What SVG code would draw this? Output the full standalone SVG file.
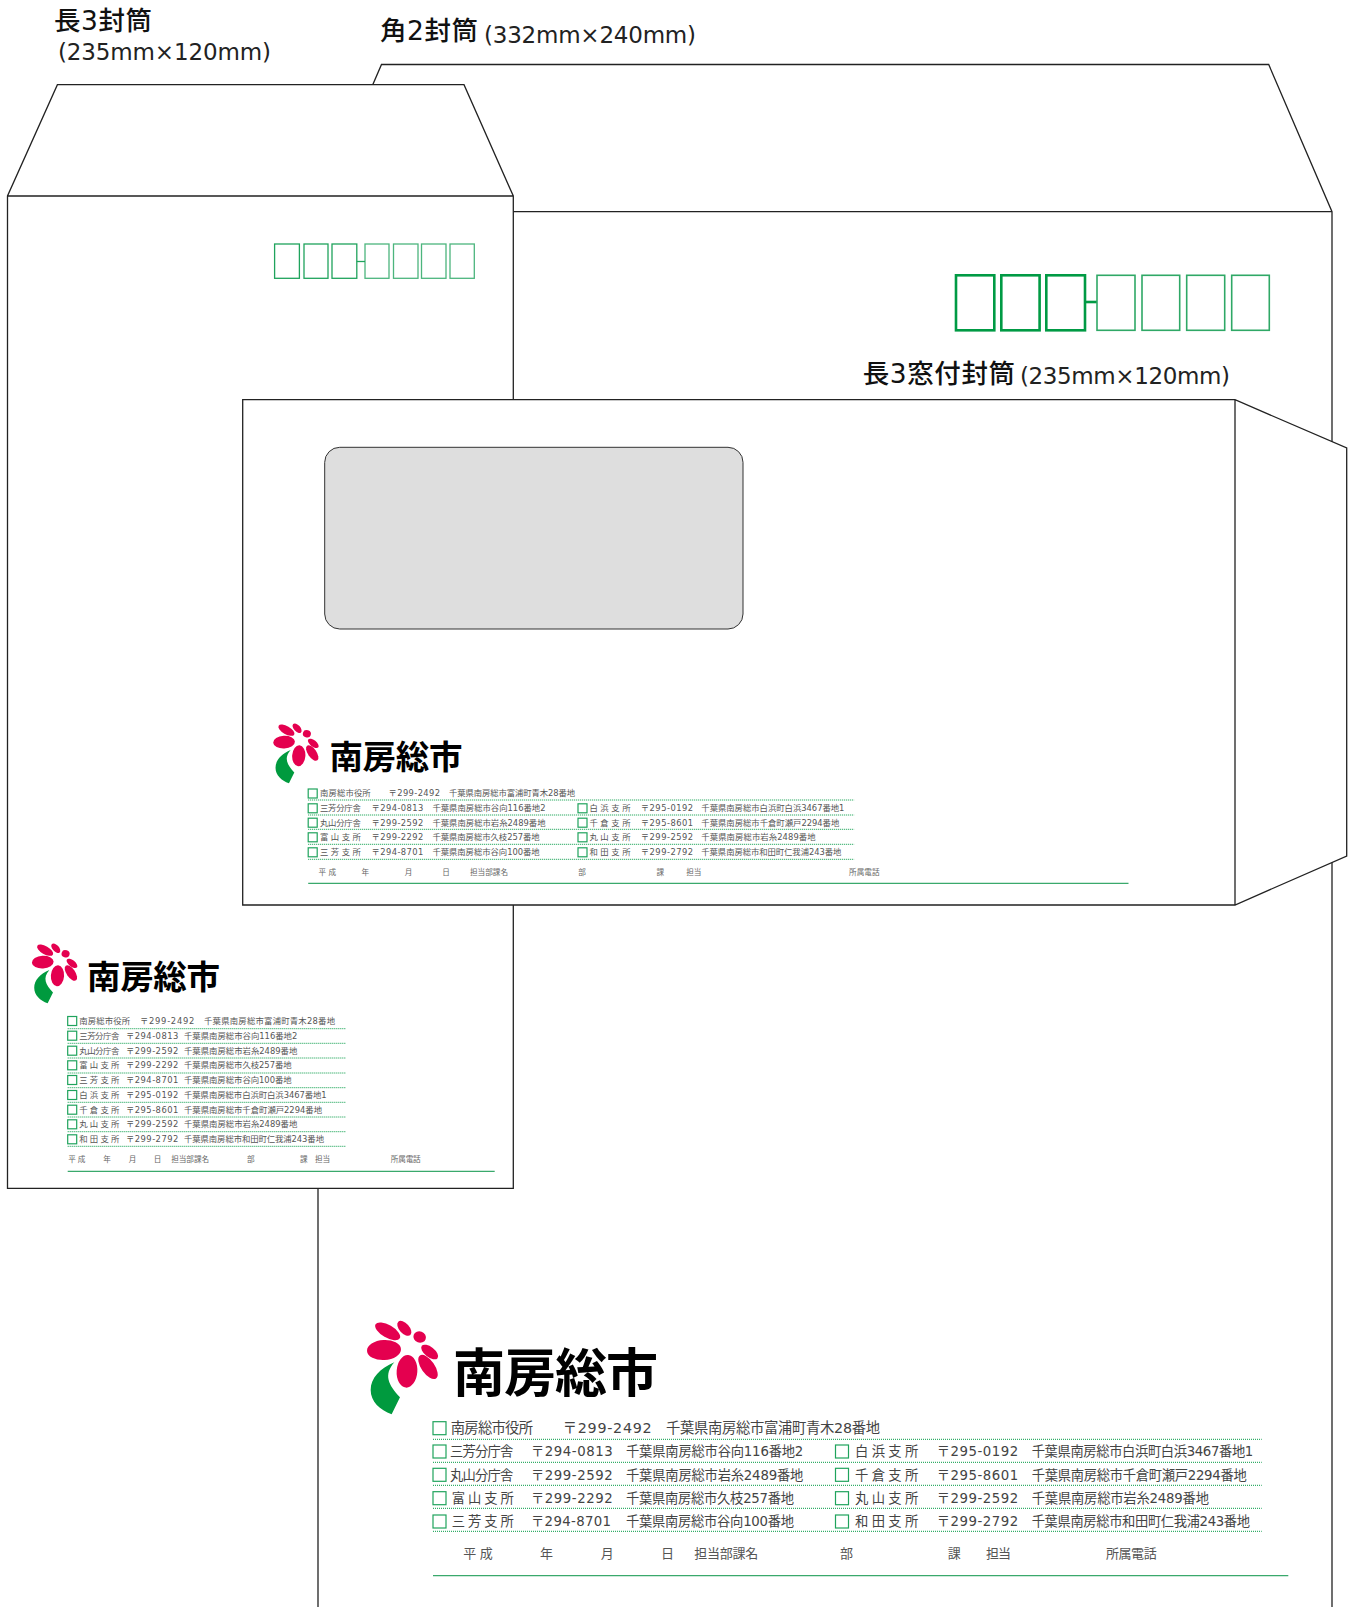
<svg xmlns="http://www.w3.org/2000/svg" xmlns:xlink="http://www.w3.org/1999/xlink" width="1351" height="1607" viewBox="0 0 1351 1607">
<style>
text{font-family:"DejaVu Sans","Noto Sans CJK JP",sans-serif}
.env{fill:#fff;stroke:#222;stroke-width:1.3;stroke-linejoin:miter}
.title{font-size:26.500px;font-weight:500;fill:#111}
.size{font-size:23px;fill:#222}
.lg{font-family:"Noto Sans CJK JP",sans-serif;font-weight:700;fill:#000}
.r1{font-size:14.300px;fill:#444}
.t1{font-size:13.300px;fill:#444}
.t2{font-size:8.400px;fill:#555}
.t3{font-size:8.350px;fill:#555}
.f1{font-size:13px;fill:#555}
.f2{font-size:7.600px;fill:#666}
.f3{font-size:7.600px;fill:#666}
.box{fill:none;stroke:#1fa35c;stroke-width:1.2}
.dot{stroke:#009a44;stroke-width:1;stroke-dasharray:1 1;fill:none}
.sol{stroke:#3aa96c;stroke-width:1.3;fill:none}
.zipb{fill:none;stroke:#009a44;stroke-width:2.6}
.zipn{fill:none;stroke:#2fa866;stroke-width:1.6}
.zipc{fill:none;stroke:#1fa35c;stroke-width:1.3}
.pet{fill:#e4004f}
</style>
<defs>
<g id="flower">
<ellipse class="pet" cx="113" cy="94" rx="42" ry="19" transform="rotate(30 113 94)"/>
<ellipse class="pet" cx="163" cy="85" rx="27" ry="15" transform="rotate(48 163 85)"/>
<ellipse class="pet" cx="209" cy="111" rx="19" ry="17" transform="rotate(20 209 111)"/>
<ellipse class="pet" cx="239" cy="156" rx="30" ry="15" transform="rotate(38 239 156)"/>
<ellipse class="pet" cx="234" cy="201" rx="42" ry="20" transform="rotate(55 234 201)"/>
<ellipse class="pet" cx="171" cy="214" rx="31" ry="49" transform="rotate(4 171 214)"/>
<ellipse class="pet" cx="102" cy="150" rx="51" ry="30" transform="rotate(-3 102 150)"/>
<path d="M133 187C90 205 62 235 62 270C62 305 90 330 125 343L150 292C115 255 100 225 133 187Z" fill="#009a3e"/>
</g>
</defs>

<g id="kaku2">
<path class="env" d="M381.500 64.500H1268.700L1332 211.700V1640H318V211.700ZM318 211.700H1332"/>
<rect class="zipb" x="956" y="275.300" width="38.300" height="55"/>
<rect class="zipb" x="1001.300" y="275.300" width="38.300" height="55"/>
<rect class="zipb" x="1046.300" y="275.300" width="38.700" height="55"/>
<path class="zipb" d="M1085 302H1097"/>
<rect class="zipn" x="1097" y="275.300" width="38" height="55"/>
<rect class="zipn" x="1142" y="275.300" width="37.700" height="55"/>
<rect class="zipn" x="1186.700" y="275.300" width="38" height="55"/>
<rect class="zipn" x="1231.700" y="275.300" width="37.600" height="55"/>
<use xlink:href="#flower" href="#flower" transform="translate(350 1300) scale(.3333)"/>
<text class="lg" x="453" y="1392" font-size="52" textLength="205">南房総市</text>
<g>
<rect class="box" x="433" y="1421.700" width="13" height="13"/><text class="r1" x="450.700" y="1433.300" textLength="82.300">南房総市役所</text><text class="r1" x="562.700" y="1433.300" textLength="89">〒299-2492</text><text class="r1" x="666" y="1433.300" textLength="214">千葉県南房総市富浦町青木28番地</text>
<path class="dot" d="M433 1439.300H1261.700M433 1462.300H1261.700M433 1485.300H1261.700M433 1508.300H1261.700M433 1531.300H1261.700"/>
<rect class="box" x="433" y="1445" width="13" height="13"/><text class="t1" x="450" y="1456.400" textLength="63.300">三芳分庁舎</text><text class="t1" x="531" y="1456.400" textLength="81.700">〒294-0813</text><text class="t1" x="626" y="1456.400" textLength="177.300">千葉県南房総市谷向116番地2</text>
<rect class="box" x="433" y="1468.300" width="13" height="13"/><text class="t1" x="450" y="1479.700" textLength="63.300">丸山分庁舎</text><text class="t1" x="531" y="1479.700" textLength="81.700">〒299-2592</text><text class="t1" x="626" y="1479.700" textLength="177.300">千葉県南房総市岩糸2489番地</text>
<rect class="box" x="433" y="1491.700" width="13" height="13"/><text class="t1" x="451.700" y="1503.100" textLength="62">富 山 支 所</text><text class="t1" x="531" y="1503.100" textLength="81.700">〒299-2292</text><text class="t1" x="626" y="1503.100" textLength="168">千葉県南房総市久枝257番地</text>
<rect class="box" x="433" y="1515" width="13" height="13"/><text class="t1" x="451.700" y="1526.400" textLength="62">三 芳 支 所</text><text class="t1" x="531" y="1526.400" textLength="80">〒294-8701</text><text class="t1" x="626" y="1526.400" textLength="168">千葉県南房総市谷向100番地</text>
<rect class="box" x="835.500" y="1445" width="13" height="13"/><text class="t1" x="855" y="1456.400" textLength="63.300">白 浜 支 所</text><text class="t1" x="936.700" y="1456.400" textLength="81.600">〒295-0192</text><text class="t1" x="1031.700" y="1456.400" textLength="221.600">千葉県南房総市白浜町白浜3467番地1</text>
<rect class="box" x="835.500" y="1468.300" width="13" height="13"/><text class="t1" x="855" y="1479.700" textLength="63.300">千 倉 支 所</text><text class="t1" x="936.700" y="1479.700" textLength="81.600">〒295-8601</text><text class="t1" x="1031.700" y="1479.700" textLength="215">千葉県南房総市千倉町瀬戸2294番地</text>
<rect class="box" x="835.500" y="1491.700" width="13" height="13"/><text class="t1" x="855" y="1503.100" textLength="63.300">丸 山 支 所</text><text class="t1" x="936.700" y="1503.100" textLength="81.600">〒299-2592</text><text class="t1" x="1031.700" y="1503.100" textLength="177.300">千葉県南房総市岩糸2489番地</text>
<rect class="box" x="835.500" y="1515" width="13" height="13"/><text class="t1" x="855" y="1526.400" textLength="63.300">和 田 支 所</text><text class="t1" x="936.700" y="1526.400" textLength="81.600">〒299-2792</text><text class="t1" x="1031.700" y="1526.400" textLength="218.300">千葉県南房総市和田町仁我浦243番地</text>
<text class="f1" x="463.300" y="1558" textLength="29.400">平 成</text><text class="f1" x="540" y="1558">年</text><text class="f1" x="600.700" y="1558">月</text><text class="f1" x="661" y="1558">日</text><text class="f1" x="694.300" y="1558" textLength="64">担当部課名</text><text class="f1" x="840" y="1558">部</text><text class="f1" x="947.700" y="1558">課</text><text class="f1" x="986" y="1558" textLength="25">担当</text><text class="f1" x="1106" y="1558" textLength="50.700">所属電話</text>
<path class="sol" d="M433 1575.700H1288.300"/>
</g>
</g>

<g id="naga3">
<path class="env" d="M57.400 84.700H464L513.300 196V1188.300H7.500V196ZM7.500 196H513.300"/>
<rect class="zipc" x="274.600" y="244" width="24.800" height="34.300"/>
<rect class="zipc" x="304" y="244" width="24" height="34.300"/>
<rect class="zipc" x="332" y="244" width="24.800" height="34.300"/>
<path class="zipc" d="M356.800 261.500H365"/>
<rect class="zipc" x="365" y="244" width="24" height="34.300" opacity=".8"/>
<rect class="zipc" x="393.500" y="244" width="24.500" height="34.300" opacity=".8"/>
<rect class="zipc" x="421.500" y="244" width="24.500" height="34.300" opacity=".8"/>
<rect class="zipc" x="450" y="244" width="24.300" height="34.300" opacity=".8"/>
<use xlink:href="#flower" href="#flower" transform="translate(21 930.100) scale(.2133)"/>
<text class="lg" x="87" y="988.500" font-size="33.500" textLength="133">南房総市</text>
<g>
<path class="dot" d="M67.700 1028.700H346M67.700 1043.300H346M67.700 1058H346M67.700 1073H346M67.700 1087.700H346M67.700 1102.300H346M67.700 1117H346M67.700 1131.700H346M67.700 1146.300H346"/>
<rect class="box" x="67.700" y="1016.500" width="9" height="9"/><text class="t2" x="79.300" y="1024" textLength="50.700">南房総市役所</text><text class="t2" x="140" y="1024" textLength="54.300">〒299-2492</text><text class="t2" x="204" y="1024" textLength="131">千葉県南房総市富浦町青木28番地</text>
<rect class="box" x="67.700" y="1031.200" width="9" height="9"/><text class="t2" x="79.300" y="1038.700" textLength="40">三芳分庁舎</text><text class="t2" x="126" y="1038.700" textLength="52.300">〒294-0813</text><text class="t2" x="184" y="1038.700" textLength="113.300">千葉県南房総市谷向116番地2</text>
<rect class="box" x="67.700" y="1046.200" width="9" height="9"/><text class="t2" x="79.300" y="1053.700" textLength="40">丸山分庁舎</text><text class="t2" x="126" y="1053.700" textLength="52.300">〒299-2592</text><text class="t2" x="184" y="1053.700" textLength="113.300">千葉県南房総市岩糸2489番地</text>
<rect class="box" x="67.700" y="1060.800" width="9" height="9"/><text class="t2" x="79.300" y="1068.300" textLength="40">富 山 支 所</text><text class="t2" x="126" y="1068.300" textLength="52.300">〒299-2292</text><text class="t2" x="184" y="1068.300" textLength="107.700">千葉県南房総市久枝257番地</text>
<rect class="box" x="67.700" y="1075.500" width="9" height="9"/><text class="t2" x="79.300" y="1083" textLength="40">三 芳 支 所</text><text class="t2" x="126" y="1083" textLength="52.300">〒294-8701</text><text class="t2" x="184" y="1083" textLength="107.700">千葉県南房総市谷向100番地</text>
<rect class="box" x="67.700" y="1090.500" width="9" height="9"/><text class="t2" x="79.300" y="1098" textLength="40">白 浜 支 所</text><text class="t2" x="126" y="1098" textLength="52.300">〒295-0192</text><text class="t2" x="184" y="1098" textLength="142.700">千葉県南房総市白浜町白浜3467番地1</text>
<rect class="box" x="67.700" y="1105.200" width="9" height="9"/><text class="t2" x="79.300" y="1112.700" textLength="40">千 倉 支 所</text><text class="t2" x="126" y="1112.700" textLength="52.300">〒295-8601</text><text class="t2" x="184" y="1112.700" textLength="138">千葉県南房総市千倉町瀬戸2294番地</text>
<rect class="box" x="67.700" y="1119.800" width="9" height="9"/><text class="t2" x="79.300" y="1127.300" textLength="40">丸 山 支 所</text><text class="t2" x="126" y="1127.300" textLength="52.300">〒299-2592</text><text class="t2" x="184" y="1127.300" textLength="113.300">千葉県南房総市岩糸2489番地</text>
<rect class="box" x="67.700" y="1134.800" width="9" height="9"/><text class="t2" x="79.300" y="1142.300" textLength="40">和 田 支 所</text><text class="t2" x="126" y="1142.300" textLength="52.300">〒299-2792</text><text class="t2" x="184" y="1142.300" textLength="140">千葉県南房総市和田町仁我浦243番地</text>
<text class="f2" x="68.300" y="1162" textLength="17">平 成</text><text class="f2" x="103.300" y="1162">年</text><text class="f2" x="128.700" y="1162">月</text><text class="f2" x="153.700" y="1162">日</text><text class="f2" x="171.300" y="1162" textLength="37.700">担当部課名</text><text class="f2" x="247" y="1162">部</text><text class="f2" x="300" y="1162">課</text><text class="f2" x="315" y="1162" textLength="15">担当</text><text class="f2" x="390.700" y="1162" textLength="30">所属電話</text>
<path class="sol" d="M67.700 1171.300H494.700"/>
</g>
</g>

<g id="naga3-window">
<path class="env" d="M242.700 399.700H1235L1346.700 448V856L1235 905H242.700ZM1235 399.700V905"/>
<rect x="324.700" y="447.300" width="418.300" height="181.700" rx="15" ry="15" fill="#dedede" stroke="#333" stroke-width="1"/>
<use xlink:href="#flower" href="#flower" transform="translate(262.300 710.100) scale(.2133)"/>
<text class="lg" x="329.400" y="768.500" font-size="33.500" textLength="133">南房総市</text>
<g>
<path class="dot" d="M308.200 800H854.300M308.200 815H854.300M308.200 829.300H854.300M308.200 844.300H854.300M308.200 859.300H854.300"/>
<rect class="box" x="308.200" y="789" width="9" height="9"/><text class="t3" x="320" y="796.300" textLength="50.700">南房総市役所</text><text class="t3" x="388.500" y="796.300" textLength="51.500">〒299-2492</text><text class="t3" x="449" y="796.300" textLength="126">千葉県南房総市富浦町青木28番地</text>
<rect class="box" x="308.200" y="803.800" width="9" height="9"/><text class="t3" x="320" y="811.300" textLength="40.800">三芳分庁舎</text><text class="t3" x="371.500" y="811.300" textLength="51.800">〒294-0813</text><text class="t3" x="432.400" y="811.300" textLength="113.100">千葉県南房総市谷向116番地2</text>
<rect class="box" x="308.200" y="818.200" width="9" height="9"/><text class="t3" x="320" y="825.700" textLength="40.800">丸山分庁舎</text><text class="t3" x="371.500" y="825.700" textLength="51.800">〒299-2592</text><text class="t3" x="432.400" y="825.700" textLength="113.100">千葉県南房総市岩糸2489番地</text>
<rect class="box" x="308.200" y="832.800" width="9" height="9"/><text class="t3" x="320" y="840.300" textLength="40.800">富 山 支 所</text><text class="t3" x="371.500" y="840.300" textLength="51.800">〒299-2292</text><text class="t3" x="432.400" y="840.300" textLength="107.200">千葉県南房総市久枝257番地</text>
<rect class="box" x="308.200" y="847.800" width="9" height="9"/><text class="t3" x="320" y="855.300" textLength="40.800">三 芳 支 所</text><text class="t3" x="371.500" y="855.300" textLength="51.800">〒294-8701</text><text class="t3" x="432.400" y="855.300" textLength="107.200">千葉県南房総市谷向100番地</text>
<rect class="box" x="578" y="803.800" width="9" height="9"/><text class="t3" x="589.400" y="811.300" textLength="41.100">白 浜 支 所</text><text class="t3" x="640.800" y="811.300" textLength="52.200">〒295-0192</text><text class="t3" x="701.300" y="811.300" textLength="143.100">千葉県南房総市白浜町白浜3467番地1</text>
<rect class="box" x="578" y="818.200" width="9" height="9"/><text class="t3" x="589.400" y="825.700" textLength="41.100">千 倉 支 所</text><text class="t3" x="640.800" y="825.700" textLength="52.200">〒295-8601</text><text class="t3" x="701.300" y="825.700" textLength="138">千葉県南房総市千倉町瀬戸2294番地</text>
<rect class="box" x="578" y="832.800" width="9" height="9"/><text class="t3" x="589.400" y="840.300" textLength="41.100">丸 山 支 所</text><text class="t3" x="640.800" y="840.300" textLength="52.200">〒299-2592</text><text class="t3" x="701.300" y="840.300" textLength="114.300">千葉県南房総市岩糸2489番地</text>
<rect class="box" x="578" y="847.800" width="9" height="9"/><text class="t3" x="589.400" y="855.300" textLength="41.100">和 田 支 所</text><text class="t3" x="640.800" y="855.300" textLength="52.200">〒299-2792</text><text class="t3" x="701.300" y="855.300" textLength="140">千葉県南房総市和田町仁我浦243番地</text>
<text class="f3" x="318.500" y="875" textLength="17.500">平 成</text><text class="f3" x="361.600" y="875">年</text><text class="f3" x="404.700" y="875">月</text><text class="f3" x="442.300" y="875">日</text><text class="f3" x="470" y="875" textLength="38">担当部課名</text><text class="f3" x="578.300" y="875">部</text><text class="f3" x="656.600" y="875">課</text><text class="f3" x="686.300" y="875" textLength="15">担当</text><text class="f3" x="849" y="875" textLength="30.500">所属電話</text>
<path class="sol" d="M308.200 883.300H1128.500"/>
</g>
</g>

<g id="labels">
<text class="title" x="54" y="30" textLength="98">長3封筒</text>
<text class="size" x="58" y="60" textLength="213">(235mm×120mm)</text>
<text class="title" x="380" y="40" textLength="98">角2封筒</text>
<text class="size" x="484" y="43" textLength="212">(332mm×240mm)</text>
<text class="title" x="862.700" y="383" textLength="152.300">長3窓付封筒</text>
<text class="size" x="1020" y="384" textLength="210">(235mm×120mm)</text>
</g>
</svg>
